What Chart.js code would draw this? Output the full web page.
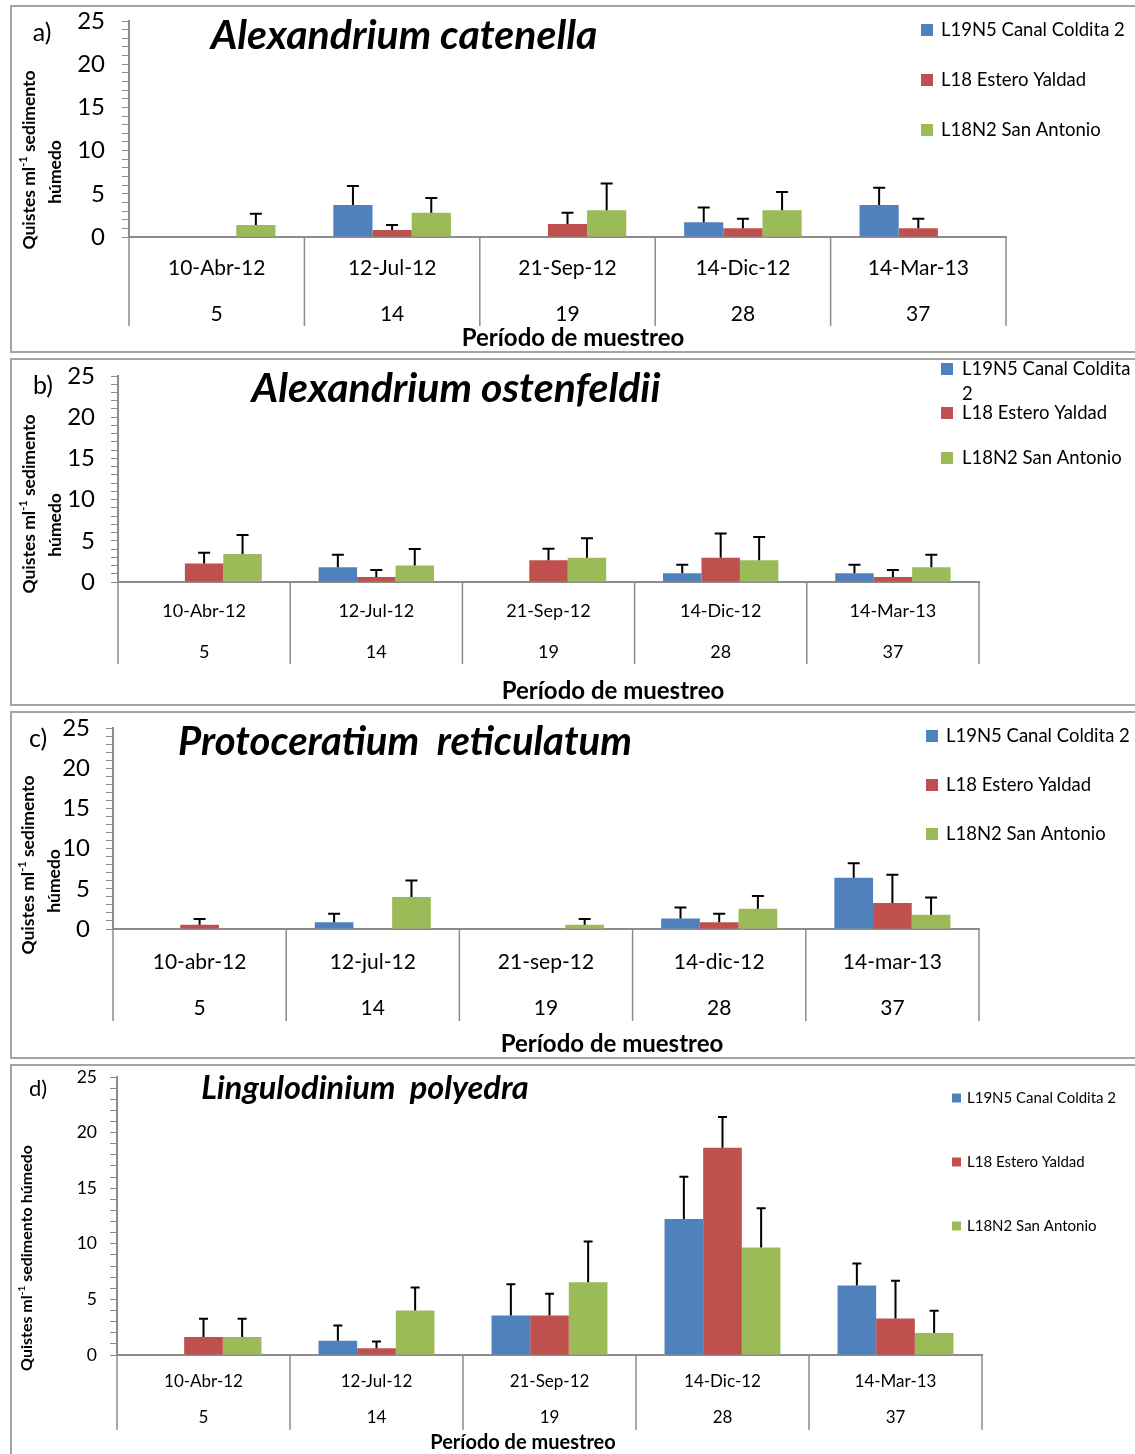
<!DOCTYPE html>
<html lang="es">
<head>
<meta charset="utf-8">
<title>Quistes por período de muestreo</title>
<script src="https://cdn.jsdelivr.net/npm/chart.js@4.4.1/dist/chart.umd.min.js"></script>
<style>
  html, body { margin: 0; padding: 0; background: #fff; overflow: hidden; }
  body { width: 1135px; height: 1454px; position: relative; }
  .marco { position: absolute; left: 10px; width: 1140px; border: 2px solid #a3a3a3; box-sizing: border-box; }
  canvas { position: absolute; left: 0; }
</style>
</head>
<body>
<div class="marco" style="top:5px;height:348px"></div>
<div class="marco" style="top:358px;height:348px"></div>
<div class="marco" style="top:711px;height:348px"></div>
<div class="marco" style="top:1064px;height:400px"></div>
<canvas id="chartA" width="1135" height="348" style="top:5px"></canvas>
<canvas id="chartB" width="1135" height="348" style="top:358px"></canvas>
<canvas id="chartC" width="1135" height="348" style="top:711px"></canvas>
<canvas id="chartD" width="1135" height="390" style="top:1064px"></canvas>
<script>
// ===== DATOS =====
const fechas = ['10-Abr-12', '12-Jul-12', '21-Sep-12', '14-Dic-12', '14-Mar-13'];
const fechasMin = ['10-abr-12', '12-jul-12', '21-sep-12', '14-dic-12', '14-mar-13'];
const dias = ['5', '14', '19', '28', '37'];
const estaciones = ['L19N5 Canal Coldita 2', 'L18 Estero Yaldad', 'L18N2 San Antonio'];
const colores = ['#4F81BD', '#C0504D', '#9BBB59'];
const yTicks = [0, 5, 10, 15, 20, 25];

// a) Alexandrium catenella
const catenellaColdita = [0, 3.7, 0, 1.7, 3.7];
const catenellaColditaDE = [0, 2.2, 0, 1.7, 2.0];
const catenellaYaldad = [0, 0.8, 1.5, 1.0, 1.0];
const catenellaYaldadDE = [0, 0.6, 1.3, 1.1, 1.1];
const catenellaSanAntonio = [1.4, 2.8, 3.1, 3.1, 0];
const catenellaSanAntonioDE = [1.3, 1.7, 3.1, 2.1, 0];

// b) Alexandrium ostenfeldii
const ostenfeldiiColdita = [0, 1.8, 0, 1.05, 1.05];
const ostenfeldiiColditaDE = [0, 1.5, 0, 1.05, 1.05];
const ostenfeldiiYaldad = [2.25, 0.6, 2.65, 2.95, 0.6];
const ostenfeldiiYaldadDE = [1.3, 0.85, 1.4, 2.95, 0.85];
const ostenfeldiiSanAntonio = [3.4, 2.0, 2.95, 2.65, 1.8];
const ostenfeldiiSanAntonioDE = [2.3, 2.0, 2.35, 2.8, 1.5];

// c) Protoceratium reticulatum
const reticulatumColdita = [0, 0.83, 0, 1.32, 6.36];
const reticulatumColditaDE = [0, 1.07, 0, 1.36, 1.83];
const reticulatumYaldad = [0.53, 0, 0, 0.83, 3.22];
const reticulatumYaldadDE = [0.71, 0, 0, 1.07, 3.52];
const reticulatumSanAntonio = [0, 3.97, 0.53, 2.52, 1.77];
const reticulatumSanAntonioDE = [0, 2.06, 0.71, 1.57, 2.15];

// d) Lingulodinium polyedra
const polyedraColdita = [0, 1.28, 3.55, 12.23, 6.25];
const polyedraColditaDE = [0, 1.38, 2.82, 3.8, 1.97];
const polyedraYaldad = [1.62, 0.6, 3.55, 18.63, 3.29];
const polyedraYaldadDE = [1.64, 0.62, 1.95, 2.77, 3.38];
const polyedraSanAntonio = [1.62, 4.0, 6.55, 9.66, 1.97];
const polyedraSanAntonioDE = [1.64, 2.07, 3.65, 3.53, 2.01];

// ===== PANELES (coordenadas de página) =====
const FAM = 'Lato, "Open Sans", sans-serif';
const GRIS = '#8c8c8c';

const paneles = [
  {
    id: 'chartA', top: 5, height: 348, letra: 'a)', titulo: 'Alexandrium catenella', labels: fechas,
    series: [catenellaColdita, catenellaYaldad, catenellaSanAntonio],
    errores: [catenellaColditaDE, catenellaYaldadDE, catenellaSanAntonioDE],
    area: { left: 129, right: 1006, top: 21, bottom: 237 },
    tickSize: 24, tickPad: 17, cap: 12,
    letraPos: { x: 42, y: 33, size: 25 },
    tituloPos: { x: 404, y: 36, size: 41 },
    ejeY: { size: 17.5, lineas: [{ x: 29, y: 160 }, { x: 55, y: 172 }] },
    fechaY: 268, diaY: 314, labelSize: 21, divBottom: 326,
    ejeX: { x: 573, y: 338, size: 24 },
    leyenda: { x: 921, sq: 12, tx: 941, filas: [30, 80, 130], size: 18.5 }
  },
  {
    id: 'chartB', top: 358, height: 348, letra: 'b)', titulo: 'Alexandrium ostenfeldii', labels: fechas,
    series: [ostenfeldiiColdita, ostenfeldiiYaldad, ostenfeldiiSanAntonio],
    errores: [ostenfeldiiColditaDE, ostenfeldiiYaldadDE, ostenfeldiiSanAntonioDE],
    area: { left: 118, right: 979, top: 376, bottom: 582 },
    tickSize: 24, tickPad: 16, cap: 12,
    letraPos: { x: 43, y: 386, size: 25 },
    tituloPos: { x: 456, y: 389, size: 41 },
    ejeY: { size: 17.5, lineas: [{ x: 29, y: 504 }, { x: 55, y: 525 }] },
    fechaY: 611, diaY: 652, labelSize: 18, divBottom: 664,
    ejeX: { x: 613, y: 691, size: 24 },
    leyenda: { x: 941, sq: 12, tx: 962, filas: [369, 413, 458], size: 18.5, partir: 25 }
  },
  {
    id: 'chartC', top: 711, height: 348, letra: 'c)', titulo: 'Protoceratium  reticulatum', labels: fechasMin,
    series: [reticulatumColdita, reticulatumYaldad, reticulatumSanAntonio],
    errores: [reticulatumColditaDE, reticulatumYaldadDE, reticulatumSanAntonioDE],
    area: { left: 113, right: 979, top: 728, bottom: 929 },
    tickSize: 24, tickPad: 16, cap: 12,
    letraPos: { x: 38, y: 739, size: 25 },
    tituloPos: { x: 405, y: 742, size: 40 },
    ejeY: { size: 17.5, lineas: [{ x: 28, y: 865 }, { x: 54, y: 881 }] },
    fechaY: 962, diaY: 1008, labelSize: 21, divBottom: 1021,
    ejeX: { x: 612, y: 1044, size: 24 },
    leyenda: { x: 926, sq: 12, tx: 946, filas: [736, 785, 834], size: 18.5 }
  },
  {
    id: 'chartD', top: 1064, height: 390, letra: 'd)', titulo: 'Lingulodinium  polyedra', labels: fechas,
    series: [polyedraColdita, polyedraYaldad, polyedraSanAntonio],
    errores: [polyedraColditaDE, polyedraYaldadDE, polyedraSanAntonioDE],
    area: { left: 117, right: 982, top: 1077, bottom: 1355 },
    tickSize: 17.5, tickPad: 13, cap: 9,
    letraPos: { x: 38, y: 1089, size: 22 },
    tituloPos: { x: 365, y: 1089, size: 32.5 },
    ejeY: { size: 16, lineas: [{ x: 27, y: 1258 }] },
    fechaY: 1382, diaY: 1418, labelSize: 17, divBottom: 1430,
    ejeX: { x: 523, y: 1443, size: 20 },
    leyenda: { x: 952, sq: 9, tx: 967, filas: [1098, 1162, 1226], size: 15 }
  }
];

// ===== AYUDAS =====
function texto(ctx, str, x, y, font, align) {
  ctx.font = font;
  ctx.textAlign = align || 'center';
  ctx.textBaseline = 'middle';
  ctx.fillStyle = '#000';
  ctx.fillText(str, x, y);
}

// "Quistes ml-1 sedimento húmedo" girado, con el -1 como superíndice
function tituloY(ctx, x, y, size, partes) {
  const fMain = `bold ${size}px ${FAM}`;
  const fSup = `bold ${Math.round(size * 0.6)}px ${FAM}`;
  ctx.save();
  ctx.translate(x, y);
  ctx.rotate(-Math.PI / 2);
  ctx.textBaseline = 'middle';
  ctx.textAlign = 'left';
  ctx.fillStyle = '#000';
  let w = 0;
  partes.forEach(([t, sup]) => { ctx.font = sup ? fSup : fMain; w += ctx.measureText(t).width; });
  let cx = -w / 2;
  partes.forEach(([t, sup]) => {
    ctx.font = sup ? fSup : fMain;
    ctx.fillText(t, cx, sup ? -size * 0.3 : 0);
    cx += ctx.measureText(t).width;
  });
  ctx.restore();
}

function decorado(p) {
  const Y = v => v - p.top;
  return {
    id: 'decorado',
    // barras de error, solo hacia arriba
    afterDatasetsDraw(chart) {
      const ctx = chart.ctx, ys = chart.scales.y;
      ctx.save();
      ctx.strokeStyle = '#000';
      ctx.lineWidth = 2;
      chart.data.datasets.forEach((ds, i) => {
        chart.getDatasetMeta(i).data.forEach((bar, j) => {
          const v = ds.data[j], e = p.errores[i][j];
          if (!v || !e) return;
          const yTop = ys.getPixelForValue(v + e);
          ctx.beginPath();
          ctx.moveTo(bar.x, bar.y);
          ctx.lineTo(bar.x, yTop);
          ctx.moveTo(bar.x - p.cap / 2, yTop);
          ctx.lineTo(bar.x + p.cap / 2, yTop);
          ctx.stroke();
        });
      });
      ctx.restore();
    },
    afterDraw(chart) {
      const ctx = chart.ctx, xs = chart.scales.x, area = chart.chartArea;
      ctx.save();

      // separadores entre categorías
      ctx.strokeStyle = GRIS;
      ctx.lineWidth = 1.5;
      for (let k = 0; k <= p.labels.length; k++) {
        const x = xs.getPixelForValue(k - 0.5);
        ctx.beginPath();
        ctx.moveTo(x, area.bottom);
        ctx.lineTo(x, Y(p.divBottom));
        ctx.stroke();
      }

      // etiquetas de dos niveles: fecha y día
      p.labels.forEach((l, i) => {
        const x = xs.getPixelForTick(i);
        texto(ctx, l, x, Y(p.fechaY), `${p.labelSize}px ${FAM}`);
        texto(ctx, dias[i], x, Y(p.diaY), `${p.labelSize}px ${FAM}`);
      });

      texto(ctx, 'Período de muestreo', p.ejeX.x, Y(p.ejeX.y), `bold ${p.ejeX.size}px ${FAM}`);
      texto(ctx, p.titulo, p.tituloPos.x, Y(p.tituloPos.y), `italic bold ${p.tituloPos.size}px ${FAM}`);
      texto(ctx, p.letra, p.letraPos.x, Y(p.letraPos.y), `${p.letraPos.size}px ${FAM}`);

      const l = p.ejeY.lineas;
      if (l.length === 2) {
        tituloY(ctx, l[0].x, Y(l[0].y), p.ejeY.size, [['Quistes ml'], ['-1', true], [' sedimento']]);
        tituloY(ctx, l[1].x, Y(l[1].y), p.ejeY.size, [['húmedo']]);
      } else {
        tituloY(ctx, l[0].x, Y(l[0].y), p.ejeY.size, [['Quistes ml'], ['-1', true], [' sedimento húmedo']]);
      }

      // leyenda
      const lg = p.leyenda;
      estaciones.forEach((nombre, i) => {
        const ry = Y(lg.filas[i]);
        ctx.fillStyle = colores[i];
        ctx.fillRect(lg.x, ry - lg.sq / 2, lg.sq, lg.sq);
        if (i === 0 && lg.partir) {
          texto(ctx, nombre.slice(0, -2), lg.tx, ry, `${lg.size}px ${FAM}`, 'left');
          texto(ctx, nombre.slice(-1), lg.tx, ry + lg.partir, `${lg.size}px ${FAM}`, 'left');
        } else {
          texto(ctx, nombre, lg.tx, ry, `${lg.size}px ${FAM}`, 'left');
        }
      });

      ctx.restore();
    }
  };
}

// ===== GRÁFICOS =====
const YW = 60; // ancho fijo del eje Y
paneles.forEach(p => {
  new Chart(document.getElementById(p.id), {
    type: 'bar',
    data: {
      labels: p.labels,
      datasets: p.series.map((s, i) => ({
        label: estaciones[i],
        data: s,
        backgroundColor: colores[i],
        borderWidth: 0,
        categoryPercentage: 0.67,
        barPercentage: 1
      }))
    },
    options: {
      responsive: false,
      animation: false,
      events: [],
      layout: {
        padding: {
          left: p.area.left - YW,
          right: 1135 - p.area.right,
          top: p.area.top - p.top,
          bottom: p.top + p.height - p.area.bottom
        }
      },
      plugins: { legend: { display: false }, tooltip: { enabled: false } },
      scales: {
        x: {
          offset: true,
          grid: { display: false },
          ticks: { display: false },
          border: { color: GRIS, width: 2 },
          afterFit: s => { s.height = 0; s.paddingLeft = 0; s.paddingRight = 0; }
        },
        y: {
          min: 0,
          max: 25,
          ticks: {
            stepSize: 1,
            autoSkip: false,
            callback: v => (yTicks.includes(v) ? v : ''),
            font: { family: FAM, size: p.tickSize },
            color: '#000',
            padding: p.tickPad
          },
          grid: { drawOnChartArea: false, tickLength: 7, color: GRIS },
          border: { color: GRIS, width: 2 },
          afterFit: s => { s.width = YW; s.paddingTop = 0; s.paddingBottom = 0; }
        }
      }
    },
    plugins: [decorado(p)]
  });
});
</script>
</body>
</html>
